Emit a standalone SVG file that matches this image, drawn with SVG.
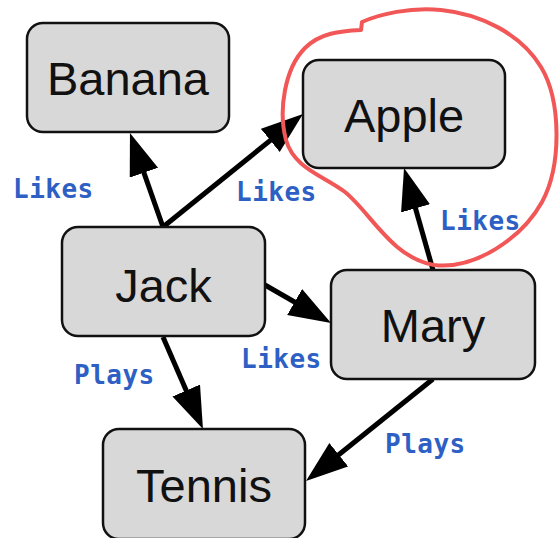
<svg xmlns="http://www.w3.org/2000/svg" width="560" height="538" viewBox="0 0 560 538">
  <style>
    .box { fill: #d8d8d8; stroke: #111; stroke-width: 2.5; }
    .name { font-family: "Liberation Sans", Arial, sans-serif; font-size: 47px; fill: #111; text-anchor: middle; }
    .edge { stroke: #000; stroke-width: 5; fill: none; marker-end: url(#head); }
    .rel { font-family: "DejaVu Sans Mono", monospace; font-weight: bold; font-size: 26px; fill: #2d5fc4; letter-spacing: 0.5px; }
  </style>
  <defs>
    <marker id="head" markerUnits="userSpaceOnUse" markerWidth="42" markerHeight="32" refX="22" refY="15" orient="auto">
      <path d="M0,0 L42,15 L0,30 Z" fill="#000"/>
    </marker>
  </defs>
  <rect width="560" height="538" fill="#fff"/>

  <g id="connectors">
    <line class="edge" x1="163" y1="227" x2="136.6" y2="151.9"/>
    <line class="edge" x1="163" y1="227" x2="287.4" y2="126.6"/>
    <line class="edge" x1="433" y1="270" x2="409.5" y2="187.2"/>
    <line class="edge" x1="265" y1="285" x2="313.7" y2="313"/>
    <line class="edge" x1="163" y1="337" x2="195" y2="410.7"/>
    <line class="edge" x1="433" y1="379" x2="321.6" y2="468.5"/>
    <text class="rel" x="13" y="198">Likes</text>
    <text class="rel" x="236" y="201">Likes</text>
    <text class="rel" x="440" y="230">Likes</text>
    <text class="rel" x="241" y="368">Likes</text>
    <text class="rel" x="74" y="384">Plays</text>
    <text class="rel" x="385" y="453">Plays</text>
  </g>

  <g id="banana">
    <rect class="box" x="27" y="23" width="202" height="109" rx="16"/>
    <text class="name" x="128" y="95">Banana</text>
  </g>
  <g id="apple">
    <rect class="box" x="303" y="60" width="202" height="108" rx="16"/>
    <text class="name" x="404" y="132">Apple</text>
  </g>
  <g id="jack">
    <rect class="box" x="62" y="227" width="203" height="109" rx="16"/>
    <text class="name" x="163.5" y="302">Jack</text>
  </g>
  <g id="mary">
    <rect class="box" x="331" y="270" width="204" height="109" rx="16"/>
    <text class="name" x="433" y="342">Mary</text>
  </g>
  <g id="tennis">
    <rect class="box" x="103" y="429" width="202" height="110" rx="16"/>
    <text class="name" x="204" y="502">Tennis</text>
  </g>

  <!-- hand-drawn highlight loop -->
  <path d="M361,30 C340,31 320,33 305,48 C285,68 278,110 286,140 C294,168 322,175 345,192 C370,212 392,258 434,265 C475,270 522,238 542,202 C562,165 561,100 541,67 C521,34 481,14 441,10 C410,7 380,14 362,22 Z" fill="none" stroke="#f25757" stroke-width="4" stroke-linejoin="round"/>
</svg>
